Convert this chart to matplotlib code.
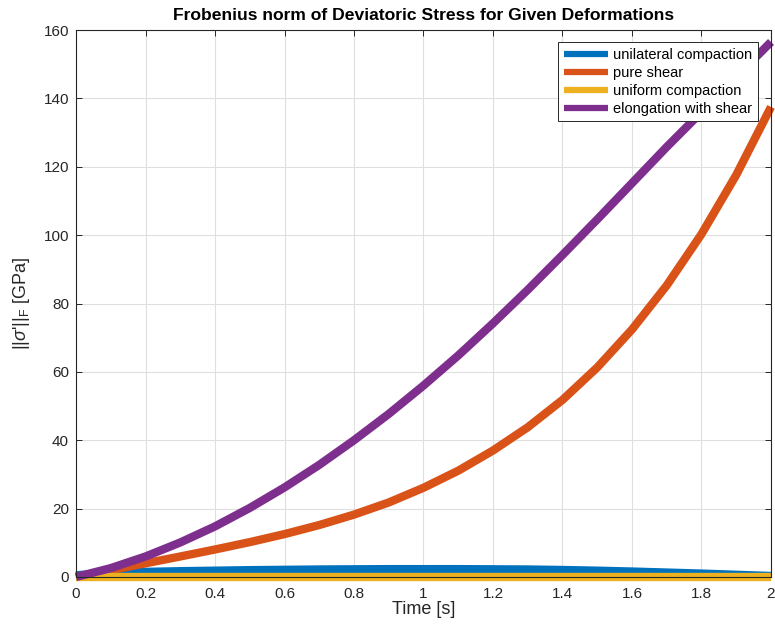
import matplotlib
matplotlib.use("Agg")
import matplotlib.pyplot as plt

plt.rcParams['font.family'] = ['Liberation Sans', 'DejaVu Sans']
plt.rcParams['mathtext.fontset'] = 'custom'
plt.rcParams['mathtext.rm'] = 'Liberation Sans'
plt.rcParams['mathtext.it'] = 'Liberation Sans:italic'

time = [0.0, 0.1, 0.2, 0.3, 0.4, 0.5, 0.6, 0.7, 0.8, 0.9, 1.0,
        1.1, 1.2, 1.3, 1.4, 1.5, 1.6, 1.7, 1.8, 1.9, 2.0]
unilateral = [0.5, 1.2, 1.5, 1.7, 1.85, 2.0, 2.1, 2.2, 2.25, 2.3, 2.3,
              2.3, 2.25, 2.2, 2.05, 1.85, 1.6, 1.3, 1.0, 0.65, 0.3]
pure_shear = [0.0, 2.0, 4.0, 6.0, 8.05, 10.2, 12.55, 15.2, 18.25, 21.8, 26.1,
              31.1, 37.0, 43.8, 51.8, 61.3, 72.4, 85.3, 100.3, 117.6, 137.5]
uniform = [0.0, 0.0, 0.0, 0.0, 0.0, 0.0, 0.0, 0.0, 0.0, 0.0, 0.0,
           0.0, 0.0, 0.0, 0.0, 0.0, 0.0, 0.0, 0.0, 0.0, 0.0]
elong_shear = [0.0, 2.6, 6.0, 10.1, 14.8, 20.2, 26.2, 32.8, 40.0, 47.7, 56.0,
               64.8, 74.2, 84.0, 94.2, 104.6, 115.2, 125.8, 136.0, 146.3, 156.5]

labels = ['unilateral compaction', 'pure shear', 'uniform compaction', 'elongation with shear']
colors = ['#0072BD', '#D95319', '#EDB120', '#7E2F8E']
series = [unilateral, pure_shear, uniform, elong_shear]

xticks = [0, 0.2, 0.4, 0.6, 0.8, 1.0, 1.2, 1.4, 1.6, 1.8, 2.0]
xticklabels = ['0', '0.2', '0.4', '0.6', '0.8', '1', '1.2', '1.4', '1.6', '1.8', '2']
yticks = [0, 20, 40, 60, 80, 100, 120, 140, 160]

fig = plt.figure(figsize=(7.75, 6.31), dpi=100)
ax = fig.add_axes([76/775, 54/631, 695/775, 547/631])

for y, c, l in zip(series, colors, labels):
    ax.plot(time, y, color=c, lw=6, label=l, solid_capstyle='butt',
            solid_joinstyle='round', clip_on=False)

ax.set_xlim(0, 2)
ax.set_ylim(0, 160)
ax.set_xticks(xticks)
ax.set_xticklabels(xticklabels)
ax.set_yticks(yticks)
ax.grid(True, color='#DFDFDF', linewidth=0.8)
ax.set_axisbelow(True)
ax.tick_params(direction='in', length=4, width=0.7, colors='#262626', labelsize=11,
               top=True, right=True)
ax.tick_params(axis='x', pad=7)
ax.tick_params(axis='y', pad=5)
for s in ax.spines.values():
    s.set_color('#262626')
    s.set_linewidth(0.8)

ax.set_title('Frobenius norm of Deviatoric Stress for Given Deformations',
             fontsize=12.6, fontweight='bold', color='black', pad=7)
ax.set_xlabel('Time [s]', fontsize=13, color='#262626', labelpad=0.5)
ax.set_ylabel(r"||$\sigma$'||$_\mathrm{F}$ [GPa]", fontsize=13, color='#262626', labelpad=8)

leg = ax.legend(loc='upper right', bbox_to_anchor=((758 - 76) / 695, 1 - 12 / 547),
                bbox_transform=ax.transAxes, fontsize=10.5, handlelength=3.0,
                frameon=True, fancybox=False, edgecolor='#262626', framealpha=1,
                borderpad=0.4, labelspacing=0.27, handletextpad=0.37, borderaxespad=0)
leg.get_frame().set_linewidth(0.7)
leg.set_zorder(5)
for line in leg.get_lines():
    line.set_linewidth(4.5)

fig.savefig('out.png', dpi=100)
